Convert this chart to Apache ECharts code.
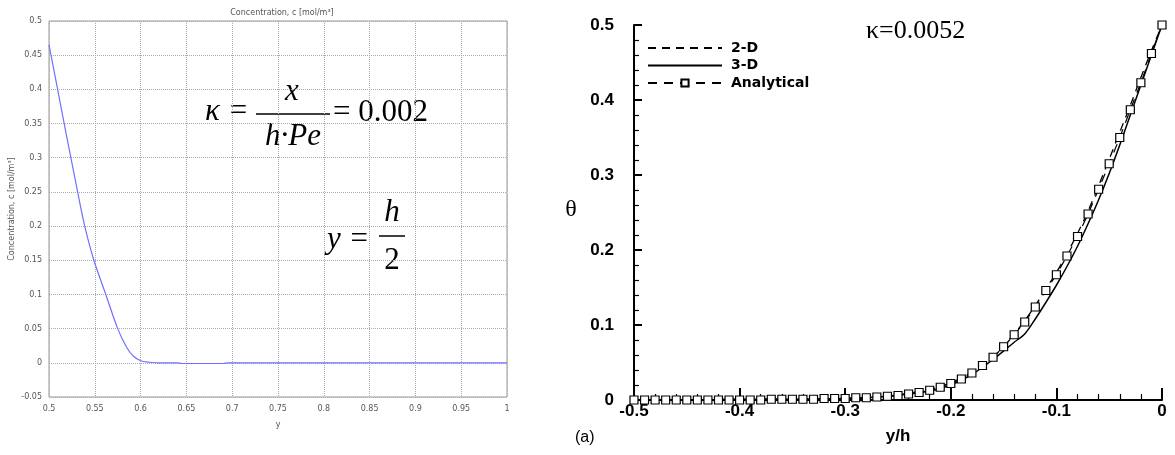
<!DOCTYPE html>
<html>
<head>
<meta charset="utf-8">
<script src="https://cdn.jsdelivr.net/npm/echarts@6/dist/echarts.min.js"></script>
<style>
html,body{margin:0;padding:0;background:#fff;}
#c{width:1175px;height:455px;}
</style>
</head>
<body>
<div id="c"></div>
<script>
// ---- Left panel: concentration profile ----
const concY = [0.5, 0.51, 0.515, 0.523, 0.532, 0.539, 0.549, 0.562, 0.575, 0.585, 0.592, 0.6, 0.61, 0.62, 0.64, 0.645, 0.69, 0.695, 1.0];
const concC = [0.465, 0.396, 0.361, 0.306, 0.245, 0.2, 0.15, 0.1, 0.05, 0.022, 0.01, 0.003, 0.0008, 0, 0, -0.001, -0.001, 0, 0];

// ---- Right panel: theta vs y/h ----
const anaX = [-0.50,-0.49,-0.48,-0.47,-0.46,-0.45,-0.44,-0.43,-0.42,-0.41,-0.40,-0.39,-0.38,-0.37,-0.36,-0.35,-0.34,-0.33,-0.32,-0.31,-0.30,-0.29,-0.28,-0.27,-0.26,-0.25,-0.24,-0.23,-0.22,-0.21,-0.20,-0.19,-0.18,-0.17,-0.16,-0.15,-0.14,-0.13,-0.12,-0.11,-0.10,-0.09,-0.08,-0.07,-0.06,-0.05,-0.04,-0.03,-0.02,-0.01,0.00];
const anaTheta = [0,0,0,0,0,0,0,0,0,0,0,0,0,0.001,0.001,0.001,0.001,0.001,0.002,0.002,0.002,0.003,0.003,0.004,0.005,0.006,0.008,0.010,0.013,0.017,0.022,0.028,0.036,0.046,0.057,0.071,0.087,0.104,0.124,0.146,0.167,0.192,0.218,0.248,0.281,0.315,0.350,0.387,0.423,0.462,0.500];

const simX = [-0.50,-0.45,-0.40,-0.35,-0.30,-0.28,-0.26,-0.24,-0.22,-0.20,-0.18,-0.16,-0.14,-0.13,-0.12,-0.11,-0.10,-0.09,-0.08,-0.07,-0.06,-0.05,-0.04,-0.03,-0.02,-0.01,0.00];
const theta3D = [0,0,0.001,0.001,0.002,0.003,0.005,0.008,0.012,0.020,0.034,0.054,0.077,0.088,0.108,0.130,0.153,0.178,0.205,0.235,0.267,0.302,0.340,0.380,0.420,0.460,0.500];
const theta2D = [0,0,0.001,0.001,0.002,0.003,0.005,0.009,0.014,0.023,0.037,0.058,0.088,0.106,0.126,0.148,0.170,0.195,0.222,0.252,0.286,0.321,0.357,0.393,0.430,0.466,0.500];

const seriesNames = ['2-D', '3-D', 'Analytical'];

const zip = (a, b) => a.map((v, i) => [v, b[i]]);
const fmt = v => String(parseFloat(v.toFixed(2)));

const chart = echarts.init(document.getElementById('c'), null, {renderer: 'canvas'});

const grayText = {color: '#555', fontSize: 8, fontFamily: 'DejaVu Sans'};
const boldLbl = {color: '#000', fontSize: 17, fontWeight: 'bold', fontFamily: 'Liberation Sans'};
const serif = '"Liberation Serif", "DejaVu Serif", serif';

chart.setOption({
  animation: false,
  backgroundColor: '#fff',
  title: {
    text: 'Concentration, c [mol/m³]',
    left: 277, top: 4, textAlign: 'center',
    textStyle: {color: '#555', fontSize: 8, fontWeight: 'normal', fontFamily: 'DejaVu Sans'}
  },
  legend: {
    data: [
      {name: seriesNames[0], itemStyle: {opacity: 0}},
      {name: seriesNames[1], itemStyle: {opacity: 0}},
      {name: seriesNames[2]}
    ],
    orient: 'vertical',
    left: 647, top: 40, padding: 0,
    itemWidth: 74, itemHeight: 9, itemGap: 1.5,
    textStyle: {color: '#000', fontSize: 14, lineHeight: 16, fontWeight: 'bold', fontFamily: 'DejaVu Sans', padding: [0, 0, 0, 4]}
  },
  grid: [
    {left: 49, top: 21, width: 458, height: 376, show: true, borderColor: '#999', borderWidth: 1, backgroundColor: '#fff'},
    {left: 634, top: 25, width: 528, height: 375}
  ],
  xAxis: [
    {
      gridIndex: 0, type: 'value', min: 0.5, max: 1, interval: 0.05,
      name: 'y', nameLocation: 'middle', nameGap: 24, nameTextStyle: grayText,
      axisLine: {show: false}, axisTick: {show: false},
      axisLabel: {formatter: fmt, margin: 8, ...grayText},
      splitLine: {show: true, lineStyle: {color: '#aaa', type: 'dotted', width: 1}}
    },
    {
      gridIndex: 1, type: 'value', min: -0.5, max: 0, interval: 0.1,
      name: 'y/h', nameLocation: 'middle', nameGap: 28, nameTextStyle: boldLbl,
      axisLine: {show: true, onZero: false, lineStyle: {color: '#000', width: 2}},
      axisTick: {show: true, inside: true, length: 12, lineStyle: {color: '#000', width: 2}},
      minorTick: {show: true, splitNumber: 5, length: 6, lineStyle: {color: '#000', width: 1.2}},
      axisLabel: {formatter: fmt, margin: 3, ...boldLbl},
      splitLine: {show: false}
    }
  ],
  yAxis: [
    {
      gridIndex: 0, type: 'value', min: -0.05, max: 0.5, interval: 0.05,
      name: 'Concentration, c [mol/m³]', nameLocation: 'middle', nameGap: 33, nameTextStyle: grayText,
      axisLine: {show: false}, axisTick: {show: false},
      axisLabel: {formatter: fmt, margin: 7, ...grayText},
      splitLine: {show: true, lineStyle: {color: '#aaa', type: 'dotted', width: 1}}
    },
    {
      gridIndex: 1, type: 'value', min: 0, max: 0.5, interval: 0.1,
      axisLine: {show: true, onZero: false, lineStyle: {color: '#000', width: 2}},
      axisTick: {show: true, inside: true, length: 8, lineStyle: {color: '#000', width: 2}},
      minorTick: {show: true, splitNumber: 5, length: 5, lineStyle: {color: '#000', width: 1.2}},
      axisLabel: {formatter: fmt, margin: 20, ...boldLbl},
      splitLine: {show: false}
    }
  ],
  series: [
    {
      name: 'c', type: 'line', xAxisIndex: 0, yAxisIndex: 0,
      data: zip(concY, concC), showSymbol: false, symbol: 'none', smooth: 0.3,
      lineStyle: {color: '#7070ff', width: 1.2}, clip: true
    },
    {
      name: '2-D', type: 'line', xAxisIndex: 1, yAxisIndex: 1,
      data: zip(simX, theta2D), symbol: 'none', smooth: 0.3,
      lineStyle: {color: '#000', width: 1.3, type: [8, 6]}, itemStyle: {color: '#000'}
    },
    {
      name: '3-D', type: 'line', xAxisIndex: 1, yAxisIndex: 1,
      data: zip(simX, theta3D), symbol: 'none', smooth: 0.3,
      lineStyle: {color: '#000', width: 1.5, type: 'solid'}, itemStyle: {color: '#000'}
    },
    {
      name: 'Analytical', type: 'line', xAxisIndex: 1, yAxisIndex: 1,
      data: zip(anaX, anaTheta), symbol: 'rect', symbolSize: 8, showAllSymbol: true,
      lineStyle: {color: '#000', width: 1.2, type: [9, 7]},
      itemStyle: {color: '#fff', borderColor: '#000', borderWidth: 1.2}, z: 5
    }
  ],
  graphic: [
    // kappa formula (left)
    {type: 'text', left: 205, top: 96, style: {text: 'κ =', font: 'italic 31px ' + serif, fill: '#000'}},
    {type: 'line', shape: {x1: 256, y1: 114, x2: 330, y2: 114}, style: {stroke: '#000', lineWidth: 1.5}},
    {type: 'text', x: 292, y: 92, style: {text: 'x', font: 'italic 31px ' + serif, fill: '#000', textAlign: 'center', textVerticalAlign: 'middle'}},
    {type: 'text', x: 293, y: 137, style: {text: 'h·Pe', font: 'italic 31px ' + serif, fill: '#000', textAlign: 'center', textVerticalAlign: 'middle'}},
    {type: 'text', x: 333, y: 113, style: {text: '= 0.002', font: '31px ' + serif, fill: '#000', textAlign: 'left', textVerticalAlign: 'middle'}},
    // y = h/2
    {type: 'text', x: 327, y: 240, style: {text: 'y =', font: 'italic 31px ' + serif, fill: '#000', textAlign: 'left', textVerticalAlign: 'middle'}},
    {type: 'line', shape: {x1: 379, y1: 236, x2: 405, y2: 236}, style: {stroke: '#000', lineWidth: 1.5}},
    {type: 'text', x: 392, y: 213, style: {text: 'h', font: 'italic 31px ' + serif, fill: '#000', textAlign: 'center', textVerticalAlign: 'middle'}},
    {type: 'text', x: 392, y: 261, style: {text: '2', font: '31px ' + serif, fill: '#000', textAlign: 'center', textVerticalAlign: 'middle'}},
    // right panel annotations
    {type: 'text', x: 866, y: 31, style: {text: 'κ=0.0052', font: '26px ' + serif, fill: '#000', textAlign: 'left', textVerticalAlign: 'middle'}},
    {type: 'text', x: 571, y: 210, style: {text: 'θ', font: '24px ' + serif, fill: '#000', textAlign: 'center', textVerticalAlign: 'middle'}},
    {type: 'text', x: 575, y: 438, style: {text: '(a)', font: '16px "Liberation Sans"', fill: '#000', textAlign: 'left', textVerticalAlign: 'middle'}}
  ]
});
</script>
</body>
</html>
